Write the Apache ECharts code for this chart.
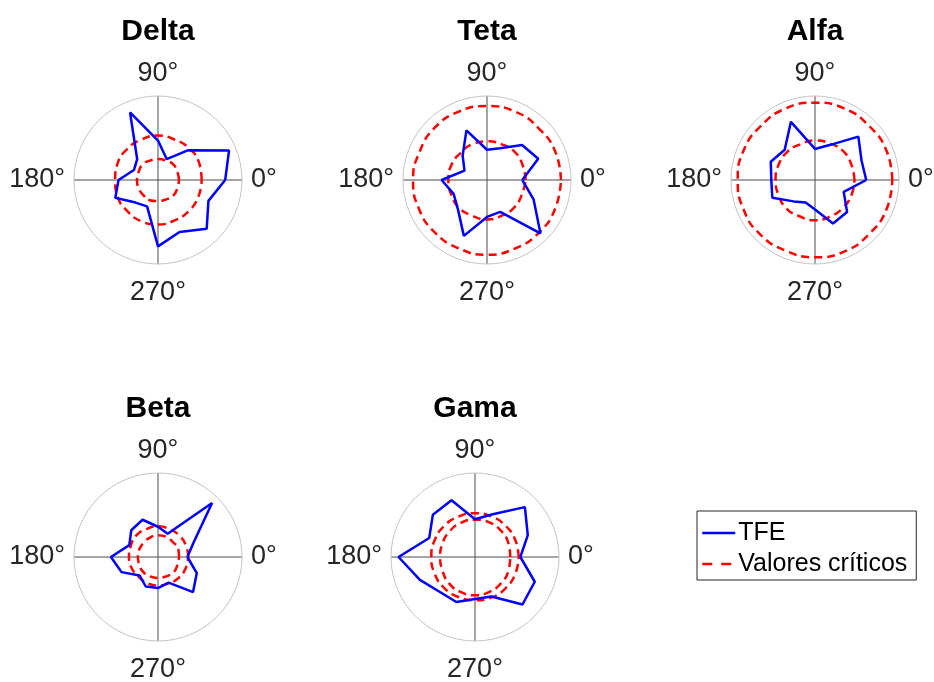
<!DOCTYPE html>
<html>
<head>
<meta charset="utf-8">
<script src="https://cdn.jsdelivr.net/npm/echarts@6/dist/echarts.min.js"></script>
<style>
  html, body { margin: 0; padding: 0; background: #ffffff; }
  #chart { width: 934px; height: 682px; }
</style>
</head>
<body>
<div id="chart"></div>
<script>
// Electrode directions (degrees), counter-clockwise from 0°
const angles = [0, 22.5, 45, 67.5, 90, 112.5, 135, 157.5, 180, 202.5, 225, 247.5, 270, 292.5, 315, 337.5];
const angleTicks = [0, 90, 180, 270];

const bandNames = ['Delta', 'Teta', 'Alfa', 'Beta', 'Gama'];

// TFE per direction (normalised radius)
const deltaTFE = [0.80, 0.915, 0.50, 0.27, 0.47, 0.87, 0.35, 0.31, 0.47, 0.55, 0.38, 0.34, 0.79, 0.67, 0.82, 0.65];
const tetaTFE  = [0.42, 0.66, 0.59, 0.41, 0.36, 0.64, 0.41, 0.29, 0.54, 0.43, 0.49, 0.72, 0.44, 0.41, 0.90, 0.60];
const alfaTFE  = [0.61, 0.60, 0.73, 0.45, 0.37, 0.75, 0.51, 0.57, 0.52, 0.55, 0.36, 0.29, 0.35, 0.56, 0.54, 0.37];
const betaTFE  = [0.35, 0.46, 0.91, 0.30, 0.36, 0.48, 0.45, 0.37, 0.56, 0.47, 0.31, 0.38, 0.37, 0.33, 0.59, 0.50];
const gamaTFE  = [0.54, 0.68, 0.84, 0.55, 0.45, 0.73, 0.71, 0.59, 0.91, 0.71, 0.59, 0.58, 0.50, 0.51, 0.80, 0.77];

// Critical values: lower and upper bounds per direction
const deltaCritLow  = [0.25, 0.25, 0.26, 0.25, 0.25, 0.25, 0.26, 0.25, 0.25, 0.25, 0.25, 0.26, 0.25, 0.25, 0.26, 0.25];
const deltaCritHigh = [0.52, 0.53, 0.53, 0.52, 0.53, 0.52, 0.52, 0.52, 0.51, 0.52, 0.52, 0.53, 0.53, 0.52, 0.52, 0.52];
const tetaCritLow   = [0.46, 0.46, 0.47, 0.46, 0.46, 0.46, 0.45, 0.46, 0.46, 0.46, 0.47, 0.46, 0.47, 0.46, 0.46, 0.45];
const tetaCritHigh  = [0.88, 0.88, 0.87, 0.88, 0.88, 0.88, 0.88, 0.87, 0.88, 0.88, 0.88, 0.88, 0.89, 0.88, 0.88, 0.88];
const alfaCritLow   = [0.47, 0.47, 0.48, 0.47, 0.47, 0.46, 0.47, 0.47, 0.47, 0.47, 0.48, 0.47, 0.48, 0.47, 0.47, 0.47];
const alfaCritHigh  = [0.92, 0.92, 0.91, 0.92, 0.92, 0.92, 0.91, 0.92, 0.92, 0.92, 0.92, 0.91, 0.92, 0.92, 0.91, 0.92];
const betaCritLow   = [0.25, 0.26, 0.25, 0.26, 0.26, 0.25, 0.24, 0.24, 0.24, 0.24, 0.25, 0.25, 0.25, 0.25, 0.26, 0.25];
const betaCritHigh  = [0.36, 0.36, 0.36, 0.36, 0.365, 0.36, 0.365, 0.35, 0.345, 0.34, 0.33, 0.335, 0.34, 0.34, 0.35, 0.355];
const gamaCritLow   = [0.42, 0.43, 0.44, 0.445, 0.445, 0.44, 0.43, 0.42, 0.415, 0.42, 0.44, 0.45, 0.455, 0.45, 0.44, 0.43];
const gamaCritHigh  = [0.52, 0.52, 0.52, 0.52, 0.52, 0.52, 0.52, 0.52, 0.52, 0.52, 0.52, 0.515, 0.515, 0.52, 0.52, 0.52];

const tfeByBand  = [deltaTFE, tetaTFE, alfaTFE, betaTFE, gamaTFE];
const lowByBand  = [deltaCritLow, tetaCritLow, alfaCritLow, betaCritLow, gamaCritLow];
const highByBand = [deltaCritHigh, tetaCritHigh, alfaCritHigh, betaCritHigh, gamaCritHigh];

// Panel placement (pixels)
const panelCenters = [[158, 180], [487, 180], [815, 180], [158, 557], [475, 557]];
const panelRadius = 84;
const titleOffset = 148;

const FONT = 'Liberation Sans, Arial, Helvetica, sans-serif';
const TEXT = '#262626';
const TICK_SIZE = 27;

// Close a polygon: [radius, angle] pairs, first point repeated at the end
function closedLoop(values) {
  const pts = values.map((v, i) => [v, angles[i]]);
  pts.push([values[0], angles[0] + 360]);
  return pts;
}

function tickLabel(v) {
  if (angleTicks.indexOf(v) < 0) return '';
  return v === 270 ? '{low|' + v + '°}' : v + '°';
}

const polar = [], angleAxis = [], radiusAxis = [], title = [], series = [];

bandNames.forEach((name, i) => {
  const [cx, cy] = panelCenters[i];
  polar.push({ center: [cx, cy], radius: panelRadius });
  angleAxis.push({
    polarIndex: i,
    type: 'value',
    min: 0,
    max: 360,
    interval: 90,
    startAngle: 0,
    clockwise: false,
    axisLine: { show: true, lineStyle: { color: '#c4c4c4', width: 1 } },
    axisTick: { show: false },
    axisLabel: {
      show: true,
      margin: 9,
      color: TEXT,
      fontFamily: FONT,
      fontSize: TICK_SIZE,
      formatter: tickLabel,
      rich: {
        low: { padding: [6, 0, 0, 0], color: TEXT, fontFamily: FONT, fontSize: TICK_SIZE }
      }
    },
    splitLine: { show: true, lineStyle: { color: '#4d4d4d', width: 1 } }
  });
  radiusAxis.push({
    polarIndex: i,
    type: 'value',
    min: 0,
    max: 1,
    axisLine: { show: false },
    axisTick: { show: false },
    axisLabel: { show: false },
    splitLine: { show: false }
  });
  title.push({
    text: name,
    left: cx,
    top: cy - titleOffset,
    textAlign: 'center',
    textVerticalAlign: 'middle',
    padding: 0,
    textStyle: { fontFamily: FONT, fontSize: 30, fontWeight: 'bold', color: '#000000' }
  });

  series.push({
    name: 'TFE',
    type: 'line',
    coordinateSystem: 'polar',
    polarIndex: i,
    data: closedLoop(tfeByBand[i]),
    symbol: 'none',
    z: 3,
    lineStyle: { color: '#0000ff', width: 2.5 },
    itemStyle: { color: '#0000ff' }
  });
  [lowByBand[i], highByBand[i]].forEach(vals => {
    series.push({
      name: 'Valores críticos',
      type: 'line',
      coordinateSystem: 'polar',
      polarIndex: i,
      data: closedLoop(vals),
      symbol: 'none',
      smooth: 0.5,
      z: 2,
      lineStyle: { color: '#ff0000', width: 2.5, type: [8, 5] },
      itemStyle: { color: '#ff0000' }
    });
  });
});

const chart = echarts.init(document.getElementById('chart'), null, { renderer: 'canvas' });
chart.setOption({
  animation: false,
  backgroundColor: '#ffffff',
  title,
  polar,
  angleAxis,
  radiusAxis,
  legend: {
    data: [
      { name: 'TFE' },
      { name: 'Valores críticos', lineStyle: { type: [10, 9] } }
    ],
    orient: 'vertical',
    left: 697,
    top: 511,
    padding: [8, 9, 2, 4],
    itemGap: 3,
    itemWidth: 33,
    itemHeight: 14,
    borderColor: '#262626',
    borderWidth: 1,
    selectedMode: false,
    itemStyle: { opacity: 0 },
    lineStyle: { width: 2.5 },
    textStyle: { fontFamily: FONT, fontSize: 25, color: '#000000', lineHeight: 28, padding: [0, 0, 0, -2] }
  },
  series
});
</script>
</body>
</html>
